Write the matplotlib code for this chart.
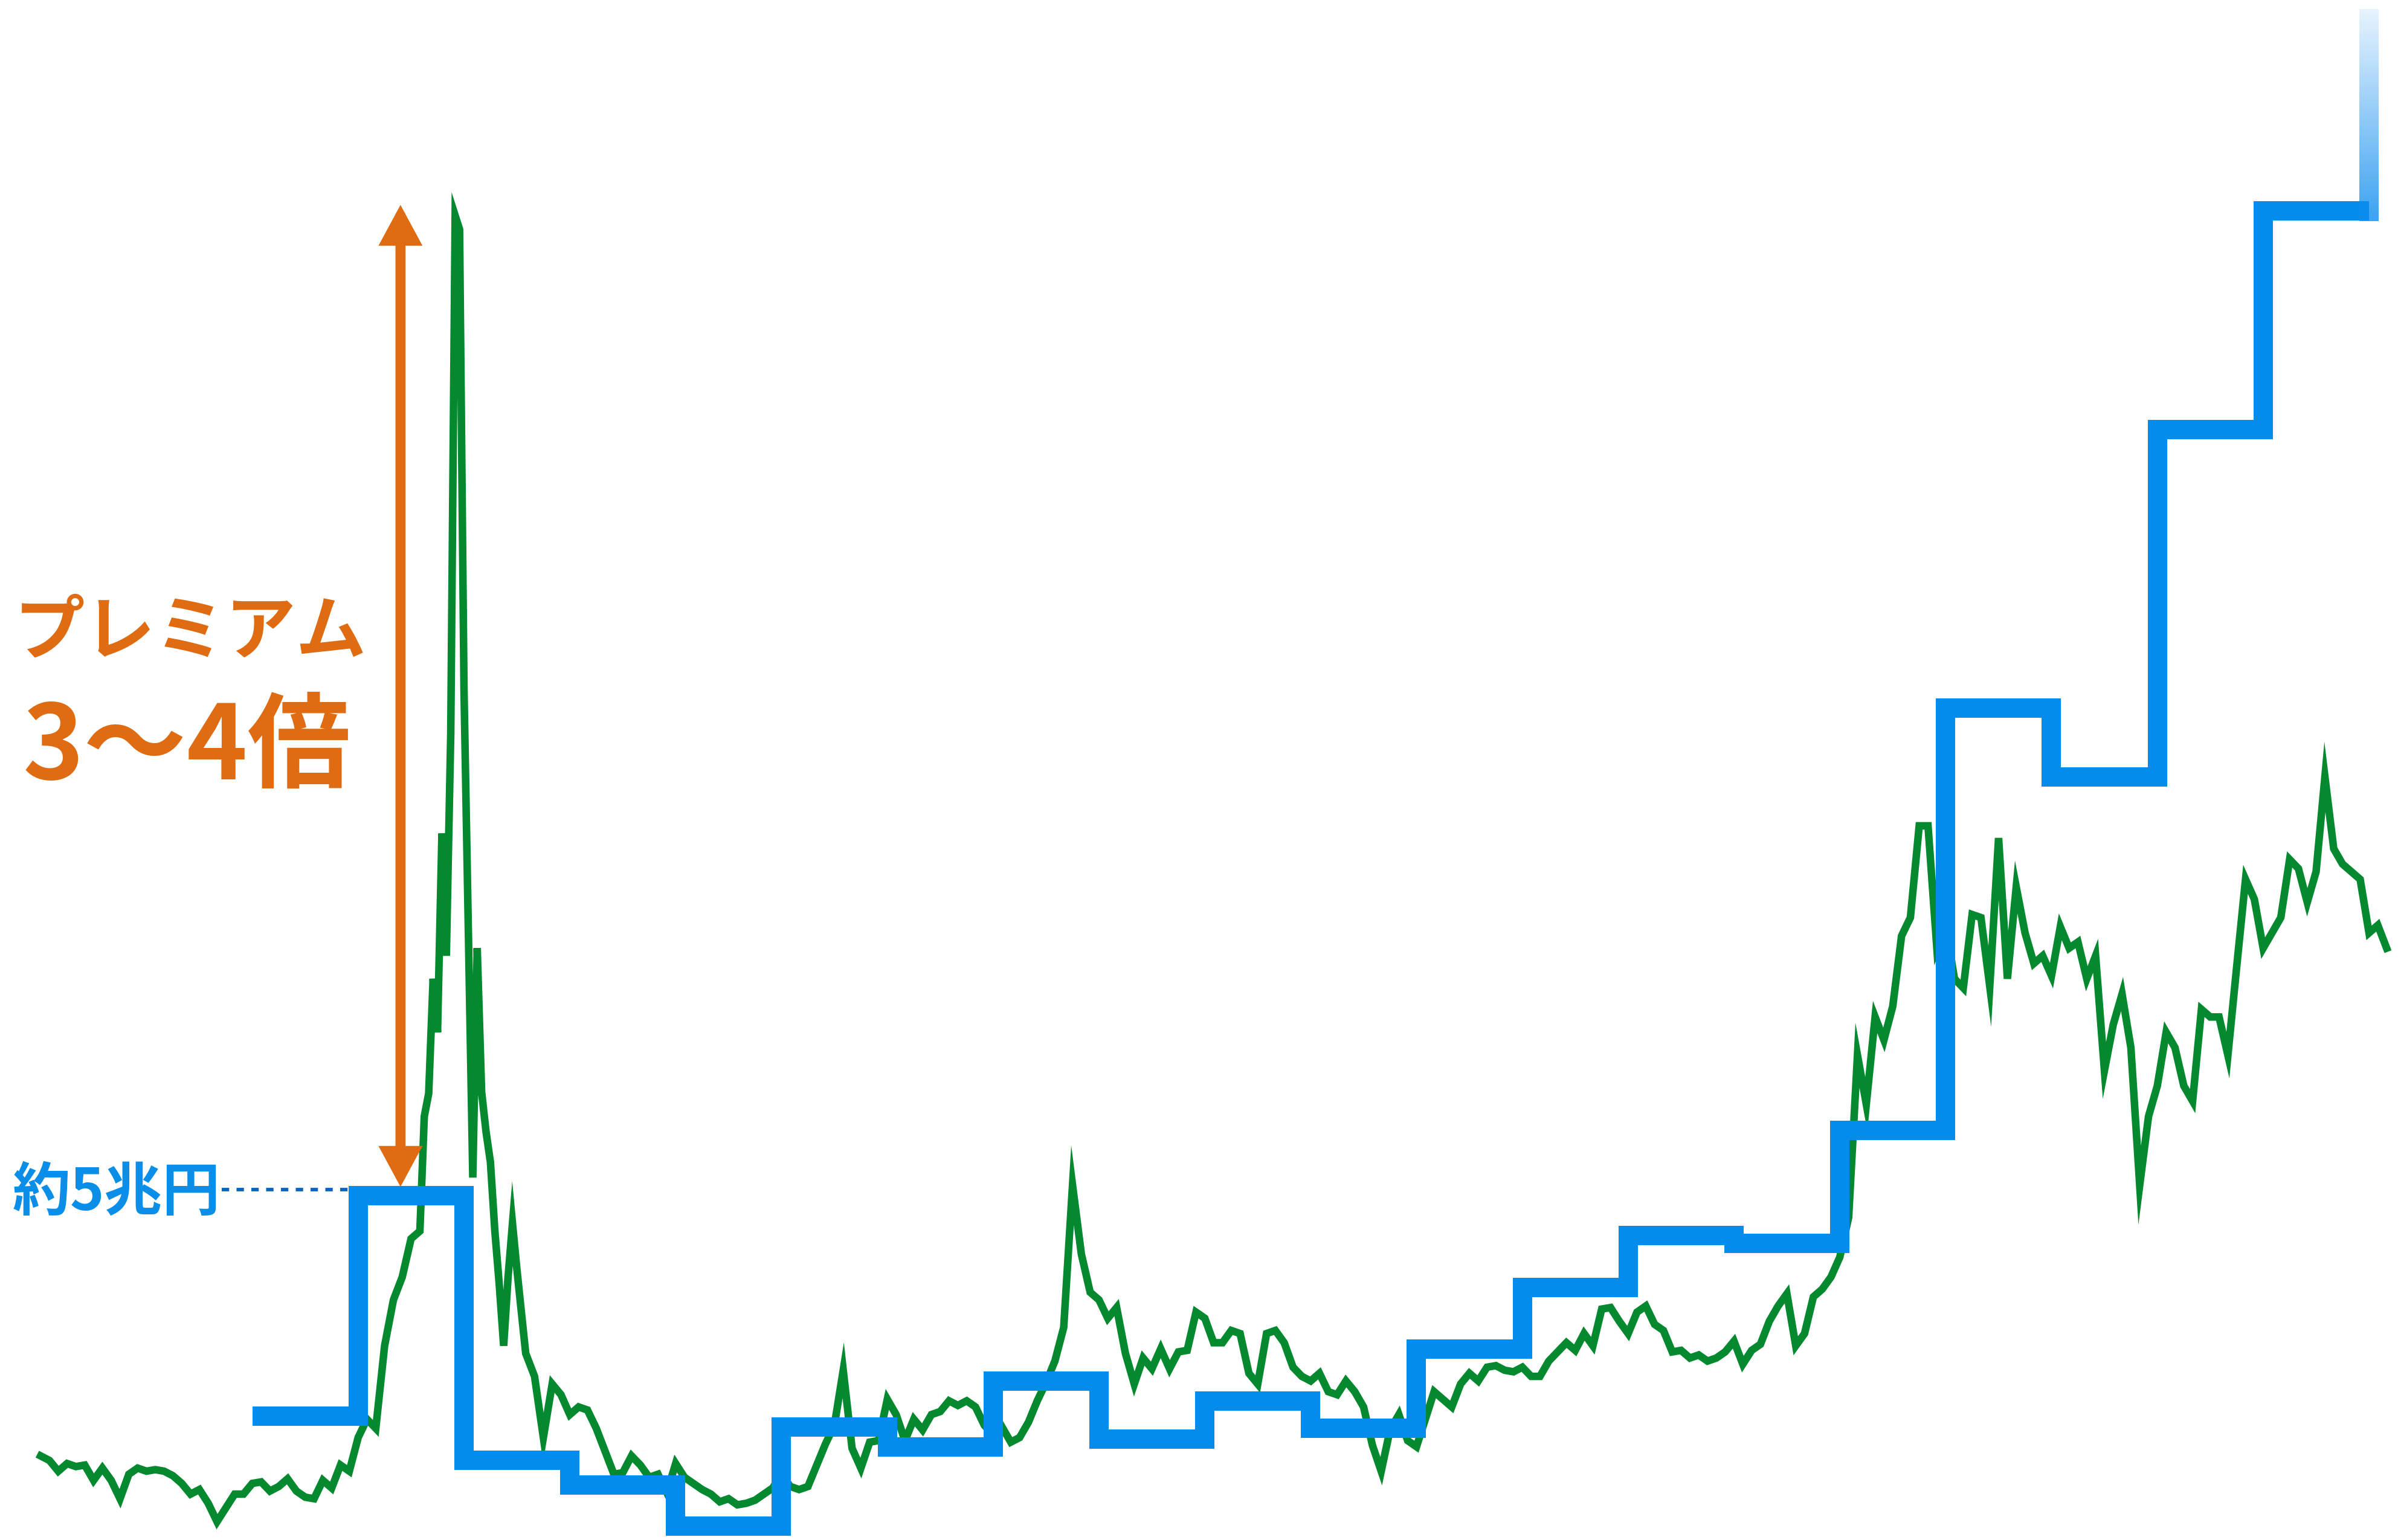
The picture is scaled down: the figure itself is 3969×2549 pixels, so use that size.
import numpy as np
import matplotlib.pyplot as plt
from matplotlib.collections import LineCollection
from matplotlib.patches import FancyArrowPatch, ArrowStyle

plt.rcParams['font.family'] = ['Noto Sans CJK JP', 'DejaVu Sans']

# 時価総額（兆円）月次, 1996年4月から
mcap_start = 1996.25
mcap = [
    1.60, 1.54, 1.40, 1.50, 1.46, 1.48, 1.28, 1.44, 1.28, 1.04, 1.36, 1.44,
    1.40, 1.42, 1.40, 1.34, 1.24, 1.10, 1.16, 0.98, 0.74, 0.92, 1.10, 1.10,
    1.24, 1.26, 1.14, 1.20, 1.30, 1.14, 1.06, 1.04, 1.28, 1.18, 1.48, 1.40,
    1.84, 2.08, 1.96, 3.04, 3.64, 3.94, 4.44, 4.54, 6.24, 7.64, 8.64, 17.82,
    12.24, 5.84, 6.64, 5.44, 3.94, 3.88, 4.04, 2.94, 2.64, 1.84, 2.54, 2.40,
    2.14, 2.24, 2.20, 1.96, 1.66, 1.36, 1.38, 1.60, 1.48, 1.32, 1.36, 1.12,
    1.50, 1.32, 1.24, 1.16, 1.10, 1.00, 1.04, 0.96, 0.98, 1.02, 1.10, 1.18,
    1.36, 1.20, 1.16, 1.20, 1.48, 1.76, 2.00, 2.72, 1.70, 1.44, 1.78, 1.80,
    2.34, 2.14, 1.80, 2.08, 1.94, 2.14, 2.18, 2.32, 2.26, 2.32, 2.24, 2.00,
    1.88, 1.98, 1.78, 1.84, 2.04, 2.32, 2.56, 2.84, 3.28, 5.14, 4.24, 3.74,
    3.64, 3.40, 3.54, 2.94, 2.54, 2.88, 2.74, 3.00, 2.74, 2.96, 2.98, 3.48,
    3.40, 3.08, 3.08, 3.24, 3.20, 2.68, 2.54, 3.20, 3.24, 3.08, 2.76, 2.64,
    2.58, 2.68, 2.44, 2.40, 2.58, 2.44, 2.24, 1.74, 1.40, 1.94, 2.14, 1.80,
    1.72, 2.08, 2.44, 2.34, 2.24, 2.54, 2.68, 2.58, 2.76, 2.78, 2.72, 2.70,
    2.76, 2.64, 2.64, 2.84, 2.96, 3.08, 2.98, 3.20, 3.04, 3.52, 3.54, 3.36,
    3.20, 3.48, 3.56, 3.32, 3.24, 2.96, 2.98, 2.88, 2.92, 2.84, 2.88, 2.96,
    3.10, 2.80, 2.98, 3.06, 3.36, 3.56, 3.72, 3.04, 3.20, 3.68, 3.78, 3.94,
    4.20, 4.72, 6.84, 6.20, 7.34, 7.04, 7.48, 8.40, 8.64, 9.84, 9.84, 8.24,
    8.54, 7.84, 7.72, 8.68, 8.64, 7.74, 9.68, 7.84, 9.04, 8.44, 8.04, 8.14,
    7.88, 8.52, 8.24, 8.32, 7.84, 8.14, 6.64, 7.24, 7.64, 6.94, 5.14, 6.04,
    6.44, 7.14, 6.94, 6.44, 6.24, 7.44, 7.34, 7.34, 6.84, 8.00, 9.14, 8.88,
    8.24, 8.44, 8.64, 9.40, 9.28, 8.84, 9.24, 10.48, 9.54, 9.34, 9.24, 9.14,
    8.44, 8.54, 8.24,
]

# バブル期は半月ごとに細かく（1999年11月〜2000年10月）
bubble_start = 1999.8333
bubble = [4.54, 6.04, 6.34, 7.84, 7.14, 9.74, 8.14, 11.04, 17.82, 17.64,
          11.64, 8.44, 5.24, 8.24, 6.36, 5.84, 5.44, 4.54, 3.84, 3.04,
          3.94, 4.64, 4.04]

# 純資産（兆円）年度末ごと
nav_edges = [1998.25 + i for i in range(21)]
nav = [2.12, 5.00, 1.54, 1.22, 0.68, 1.98, 1.72, 2.58, 1.82, 2.32,
       1.96, 3.00, 3.80, 4.48, 4.38, 5.86, 11.38, 10.48, 15.02, 17.88]
nav_fade_top = 20.52

green = '#05892f'
blue = '#038ceb'
orange = '#df6c12'

fig = plt.figure(figsize=(3969 / 300, 2549 / 300), dpi=300)
ax = fig.add_axes([0, 0, 1, 1])
ax.set_xlim(1995.866, 2018.524)
ax.set_ylim(0.5, 20.64)
ax.axis('off')

# 時価総額（月次とバブル期の半月データをつなぐ）
x_m = mcap_start + np.arange(len(mcap)) / 12
x_b = bubble_start + np.arange(len(bubble)) / 24
keep = (x_m < x_b[0] - 1e-3) | (x_m > x_b[-1] + 1e-3)
x_all = np.concatenate([x_m[keep], x_b])
y_all = np.concatenate([np.array(mcap)[keep], bubble])
order = np.argsort(x_all)
ax.plot(x_all[order], y_all[order], color=green, lw=3.0,
        solid_joinstyle='miter', zorder=2)

# 純資産のステップ
ax.stairs(nav, nav_edges, baseline=None, color=blue, lw=7.7,
          joinstyle='miter', capstyle='butt', zorder=3)

# 最後の縦線はグラデーションで消えていく
n = 60
ys = np.linspace(nav[-1] - 0.13, nav_fade_top, n + 1)
segs = [[(nav_edges[-1], ys[i]), (nav_edges[-1], ys[i + 1])] for i in range(n)]
alphas = np.linspace(0.8, 0.1, n)
cols = [(0.05, 0.55, 0.93, a) for a in alphas]
lc = LineCollection(segs, colors=cols, linewidths=7.7, capstyle='butt', zorder=3)
ax.add_collection(lc)

# プレミアムの矢印
x_arrow = 1999.65
arr = FancyArrowPatch((x_arrow, max(nav[:2]) + 0.12), (x_arrow, max(mcap) + 0.14),
                      arrowstyle=ArrowStyle('<|-|>', head_length=10, head_width=5.4),
                      mutation_scale=1, lw=4.0, color=orange, joinstyle='miter',
                      shrinkA=0, shrinkB=0, zorder=5)
ax.add_patch(arr)

# 約5兆円 の点線
ax.plot([1997.96, nav_edges[1] - 0.09], [nav[1] + 0.08, nav[1] + 0.08],
        ls=(0, (2.1, 2.1)), lw=1.4, color='#0b64c0', zorder=4)

ax.text(1995.98, 5.04, '約5兆円', color='#0a8ee8', fontsize=23,
        fontweight='bold', ha='left', va='center')
ax.text(1996.0, 12.36, 'プレミアム', color=orange, fontsize=28,
        fontweight='bold', ha='left', va='center')
ax.text(1996.08, 10.84, '3〜4倍', color=orange, fontsize=41,
        fontweight='bold', ha='left', va='center')

fig.savefig('out.png', dpi=300, facecolor='white')
